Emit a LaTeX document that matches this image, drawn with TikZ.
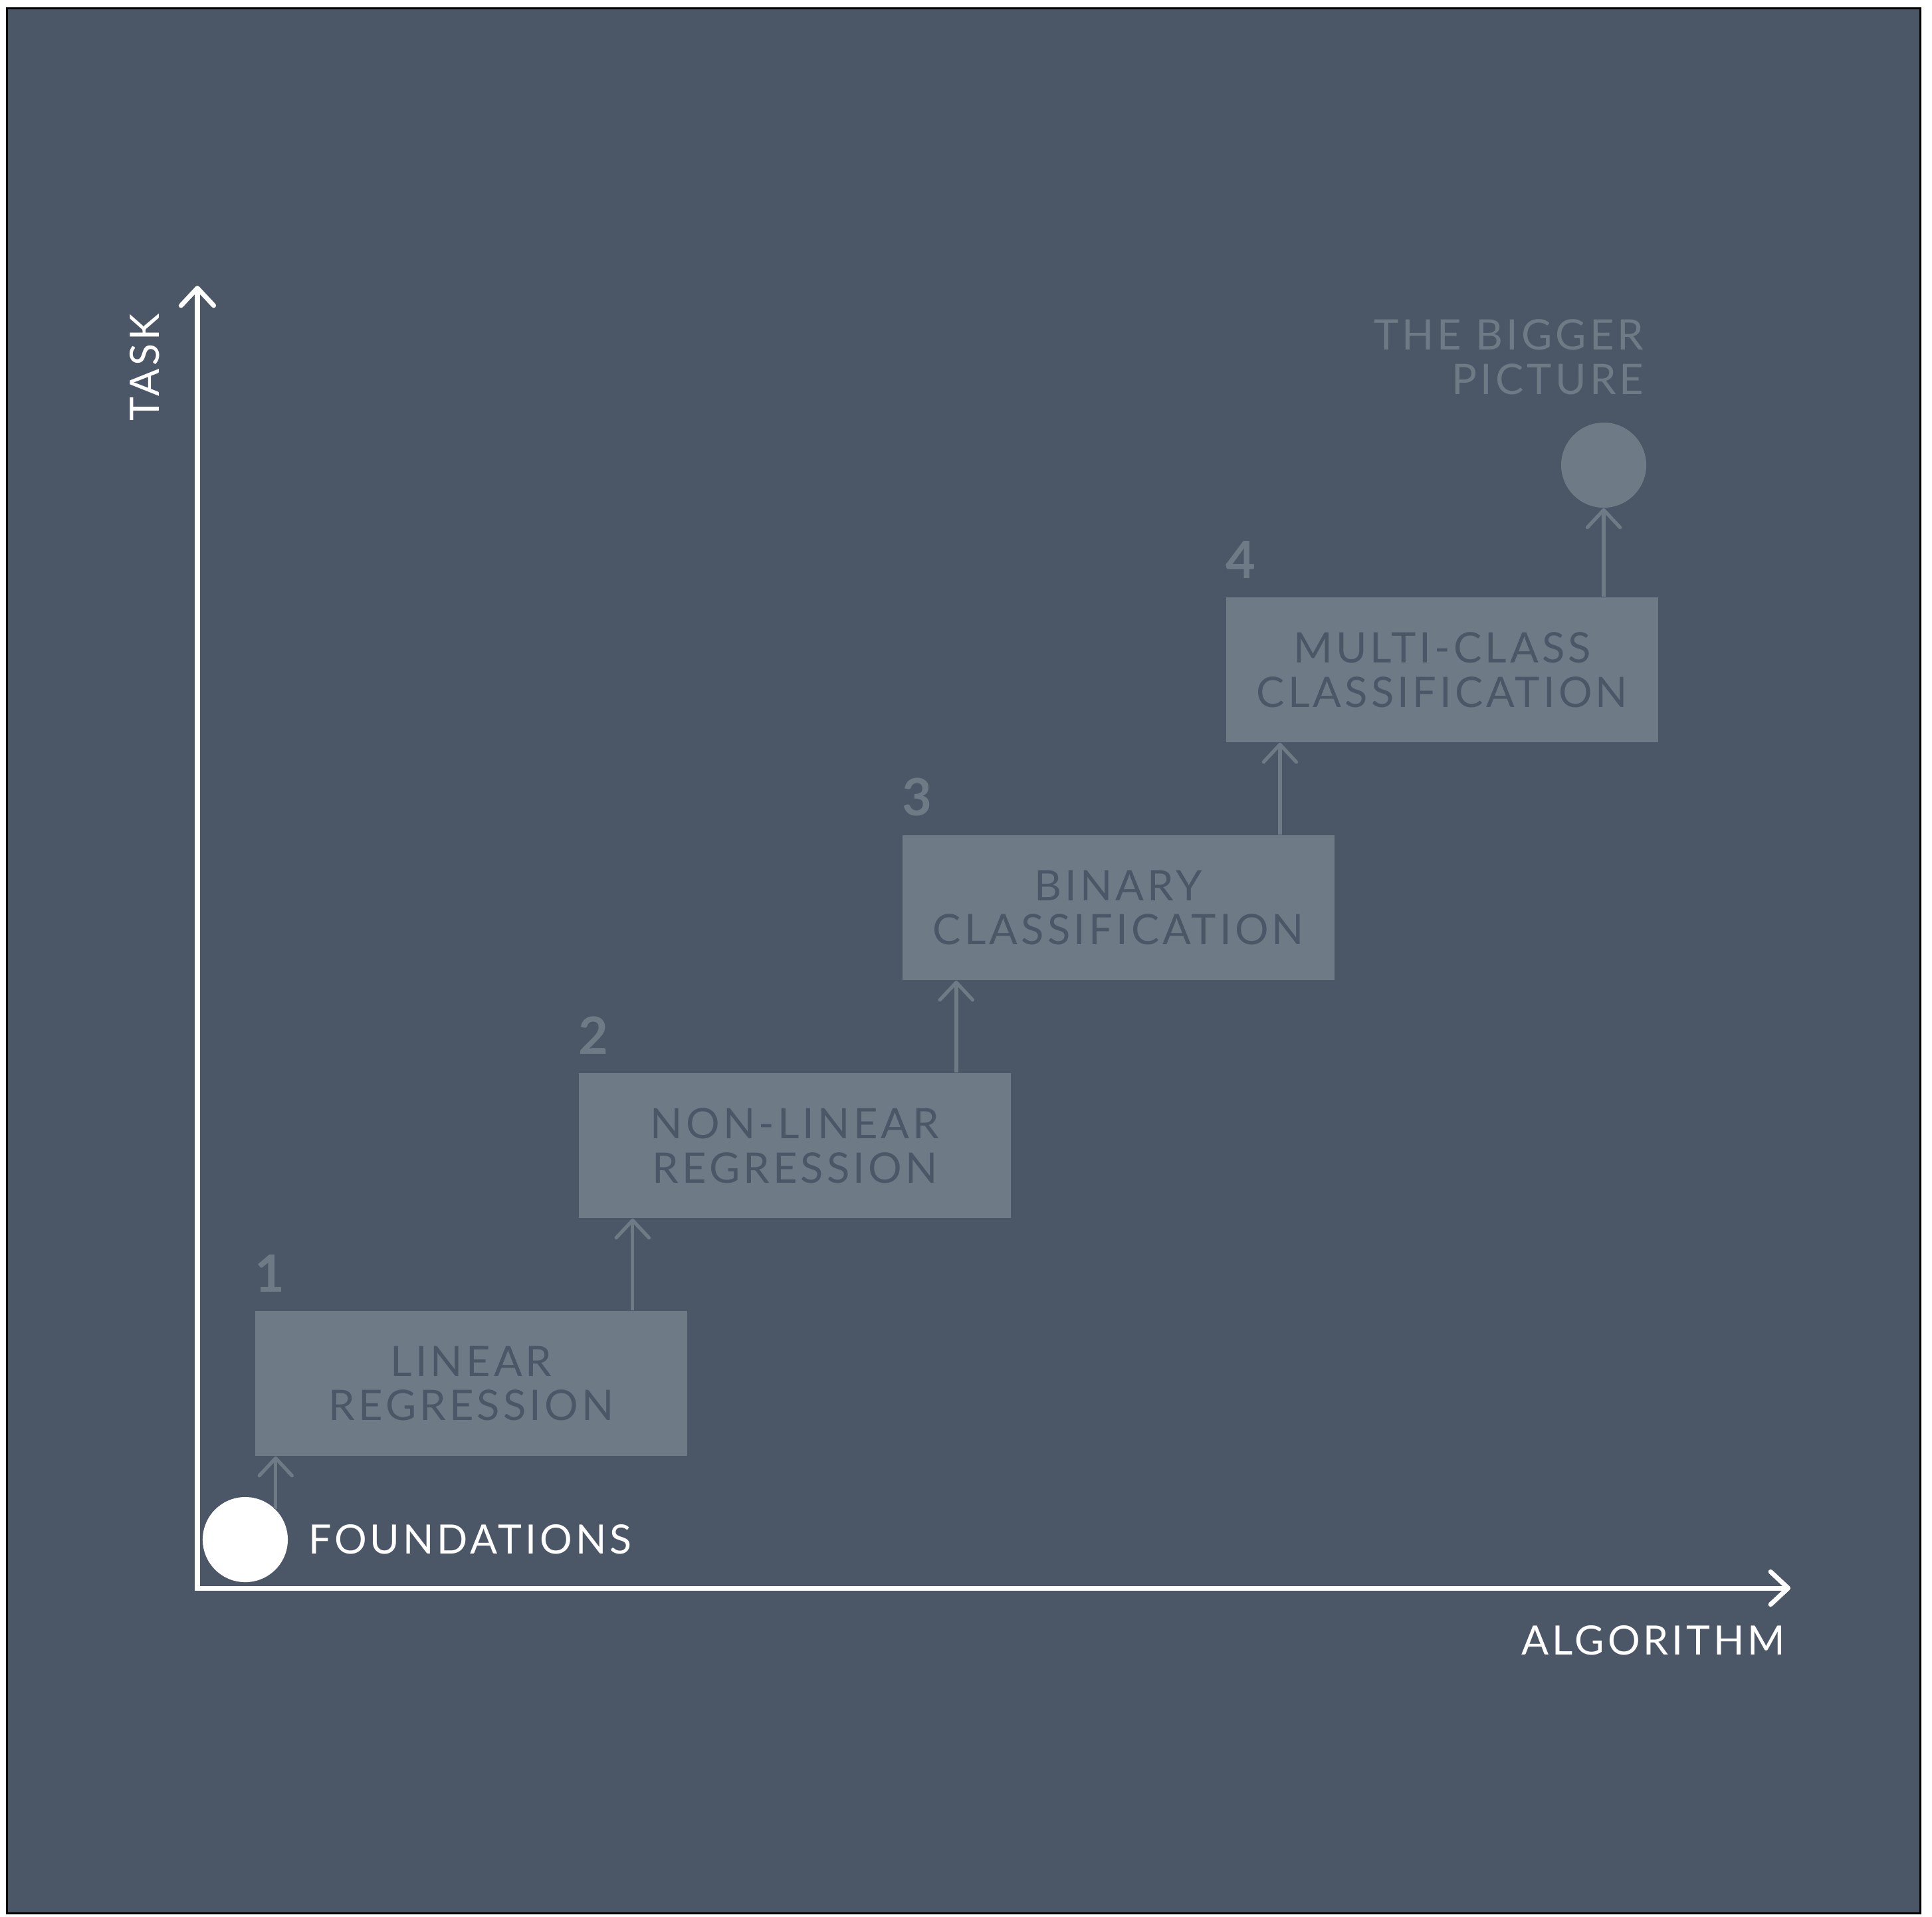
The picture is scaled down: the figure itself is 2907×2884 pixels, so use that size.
\documentclass[tikz,border=0pt]{standalone}
\usepackage{fontspec}
\setmainfont{Lato}[LetterSpace=8]
\usetikzlibrary{arrows.meta,positioning}

\definecolor{slate}{HTML}{4B5766}
\definecolor{fog}{HTML}{6E7A86}

\begin{document}
\begin{tikzpicture}[x=0.01cm, y=-0.01cm, >={Straight Barb[length=7.5pt, width=14pt, round]},
    stepbox/.style={fill=fog, text=slate, minimum width=6.5cm, minimum height=2.18cm,
        inner sep=0pt, align=center, font=\fontsize{18}{19}\selectfont},
    numlbl/.style={text=fog, inner sep=0pt, font=\fontsize{22}{22}\selectfont\bfseries},
    axlabel/.style={text=white, inner sep=0pt, font=\fontsize{17.3}{19}\selectfont},
    axis/.style={draw=white, line width=2pt},
    flow/.style={draw=fog, line width=1.5pt, ->},
    dot/.style={circle, inner sep=0pt, minimum size=1.28cm}]

    % frame and background
    \useasboundingbox (0,0) rectangle (2907,2884);
    \fill[white] (0,0) rectangle (2907,2884);
    \filldraw[fill=slate, draw=black, line width=0.85pt] (10.5,12.5) rectangle (2889,2879);

    % axes
    \coordinate (o) at (297,2390);
    \coordinate (ytop) at (297,430);
    \coordinate (xend) at (2694,2390);
    \draw[axis, <->] (ytop) -- (o) -- (xend);
    \node[axlabel, rotate=90, anchor=north east] (task) at ([xshift=-1.02cm, yshift=-0.42cm]ytop) {TASK};
    \node[axlabel, anchor=north east] (algo) at ([xshift=-0.07cm, yshift=-0.56cm]xend) {ALGORITHM};

    % steps
    \node[stepbox] (s1) at (709,2082) {LINEAR\\REGRESSION};
    \node[stepbox] (s2) at (1196,1724) {NON-LINEAR\\REGRESSION};
    \node[stepbox] (s3) at (1683,1366) {BINARY\\CLASSIFICATION};
    \node[stepbox] (s4) at (2170,1008) {MULTI-CLASS\\CLASSIFICATION};

    \foreach \i in {1,...,4}
        \node[numlbl, above right=0.27cm and 0cm of s\i.north west] (n\i) {\i};

    % start and goal
    \node[dot, fill=white] (found) at (369,2317) {};
    \node[axlabel, right=0.3cm of found] (foundtxt) {FOUNDATIONS};
    \node[dot, fill=fog] (big) at (2413,700) {};
    \node[text=fog, inner sep=0pt, align=right, anchor=south east,
        font=\fontsize{18}{19}\selectfont] (bigtxt) at ([xshift=0.61cm, yshift=0.41cm]big.north) {THE BIGGER\\PICTURE};

    % arrows
    \draw[flow] (found.north east) -- (found.north east |- s1.south);
    \foreach \i/\j in {1/2, 2/3, 3/4} {
        \coordinate (a\i) at ([xshift=-0.83cm]s\i.north east);
        \draw[flow] (a\i) -- (a\i |- s\j.south);
    }
    \draw[flow] (big.south |- s4.north) -- (big.south);
\end{tikzpicture}
\end{document}
